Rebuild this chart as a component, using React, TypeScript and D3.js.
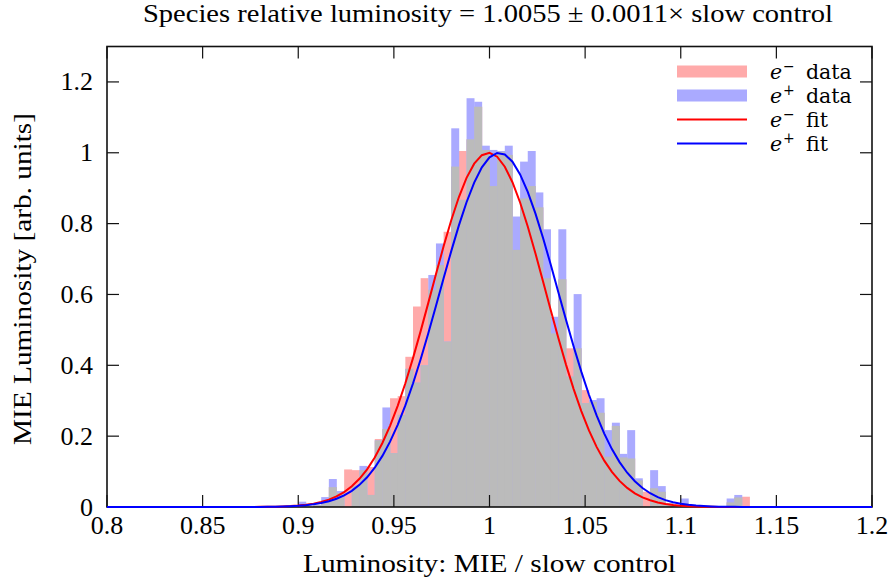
import React from "react";
import * as d3 from "d3";

const W = 892;
const H = 583;

const binStart = 0.9;
const binWidth = 0.004;
// e- (electron) histogram heights per bin, starting at 0.900
const eMinusData = [
  0.005, 0, 0.005, 0.012, 0.056, 0.04, 0.106, 0.104, 0.104, 0.113,
  0.192, 0.22, 0.307, 0.313, 0.424, 0.566, 0.646, 0.613, 0.683, 0.777,
  0.961, 1.005, 1.038, 1.13, 1.008, 0.906, 1.003, 0.994, 0.726, 0.871,
  0.906, 0.846, 0.646, 0.49, 0.643, 0.448, 0.448, 0.33, 0.297, 0.266,
  0.142, 0.229, 0.14, 0.137, 0.075, 0.043, 0.053, 0.043, 0.01, 0.005,
  0.01, 0, 0, 0, 0, 0, 0.013, 0.027, 0.029,
];
// e+ (positron) histogram heights per bin
const ePlusData = [
  0.015, 0, 0.005, 0.028, 0.079, 0.045, 0, 0.06, 0.116, 0.034,
  0.188, 0.281, 0.152, 0.26, 0.39, 0.351, 0.4, 0.655, 0.744, 0.467,
  1.069, 0.867, 1.154, 1.144, 1.02, 1.008, 1.005, 1.02, 0.82, 0.975,
  1.005, 0.888, 0.784, 0.537, 0.784, 0.368, 0.601, 0.293, 0.302, 0.307,
  0.217, 0.238, 0.15, 0.217, 0.081, 0, 0.104, 0.059, 0.01, 0.005,
  0.024, 0, 0, 0, 0, 0, 0.024, 0.034, 0,
];

// Gaussian fit parameters (mean, sigma), normalised to peak 1
const eMinusFit = { mean: 0.9995, sigma: 0.03 };
const ePlusFit = { mean: 1.005, sigma: 0.031 };

const xTicks = [0.8, 0.85, 0.9, 0.95, 1, 1.05, 1.1, 1.15, 1.2];
const xTickLabels = ["0.8", "0.85", "0.9", "0.95", "1", "1.05", "1.1", "1.15", "1.2"];
const yTicks = [0, 0.2, 0.4, 0.6, 0.8, 1, 1.2];
const yTickLabels = ["0", "0.2", "0.4", "0.6", "0.8", "1", "1.2"];

const titleText = "Species relative luminosity = 1.0055 \u00b1 0.0011\u00d7 slow control";
const xLabel = "Luminosity: MIE / slow control";
const yLabel = "MIE Luminosity [arb. units]";

const PINK = "#ffaaaa";
const LBLUE = "#aaaaff";
const GRAY = "#bbbbbb";
const FONT = "'Liberation Serif', 'DejaVu Serif', serif";
const LFONT = "'DejaVu Serif', 'Liberation Serif', serif";
const FS = 26;
const LFS = 20.5;

export default function App() {
  const x = d3.scaleLinear().domain([0.8, 1.2]).range([107, 872]);
  const y = d3.scaleLinear().domain([0, 1.3]).range([507, 46.5]);
  const tick = 12;

  const bins = eMinusData.map((r, i) => {
    const x0 = binStart + i * binWidth;
    return { x0, x1: x0 + binWidth, r, b: ePlusData[i], m: Math.min(r, ePlusData[i]) };
  });

  const samples = d3.range(0, 101).map((i) => 0.8 + i * 0.004);
  const gauss = (p: { mean: number; sigma: number }) => (v: number) =>
    Math.exp(-0.5 * ((v - p.mean) / p.sigma) ** 2);
  const line = (f: (v: number) => number) =>
    d3.line<number>().x((v) => x(v)).y((v) => y(f(v)))(samples) || "";

  const rect = (x0: number, x1: number, v: number, fill: string, key: string) =>
    v > 0 ? (
      <rect key={key} x={x(x0)} y={y(v)} width={x(x1) - x(x0) + 0.3} height={y(0) - y(v)} fill={fill} />
    ) : null;

  const legendRows = [
    { sign: "\u2212", label: "data", type: "bar", color: PINK },
    { sign: "+", label: "data", type: "bar", color: LBLUE },
    { sign: "\u2212", label: "fit", type: "line", color: "#ff0000" },
    { sign: "+", label: "fit", type: "line", color: "#0000ff" },
  ];

  return (
    <svg width={W} height={H} style={{ position: "absolute", left: 0, top: 0, background: "#fff" }} fontFamily={FONT}>
      <rect x={0} y={0} width={W} height={H} fill="#fff" />
      {/* histograms */}
      <g>
        {bins.map((d, i) => rect(d.x0, d.x1, d.r, PINK, "r" + i))}
        {bins.map((d, i) => rect(d.x0, d.x1, d.b, LBLUE, "b" + i))}
        {bins.map((d, i) => rect(d.x0, d.x1, d.m, GRAY, "g" + i))}
      </g>
      {/* frame */}
      <rect x={x(0.8)} y={y(1.3)} width={x(1.2) - x(0.8)} height={y(0) - y(1.3)} fill="none" stroke="#111" strokeWidth={1.6} />
      {/* ticks */}
      <g stroke="#111" strokeWidth={1.2}>
        {xTicks.map((t, i) => (
          <g key={"xt" + i}>
            <line x1={x(t)} x2={x(t)} y1={y(0)} y2={y(0) - tick} />
            <line x1={x(t)} x2={x(t)} y1={y(1.3)} y2={y(1.3) + tick} />
          </g>
        ))}
        {yTicks.map((t, i) => (
          <g key={"yt" + i}>
            <line x1={x(0.8)} x2={x(0.8) + tick} y1={y(t)} y2={y(t)} />
            <line x1={x(1.2)} x2={x(1.2) - tick} y1={y(t)} y2={y(t)} />
          </g>
        ))}
      </g>
      {/* legend */}
      <g fontFamily={LFONT}>
        {legendRows.map((r, i) => {
          const cy = 71.5 + i * 24;
          return (
            <g key={"lg" + i}>
              {r.type === "bar" ? (
                <rect x={677} y={cy - 6} width={70} height={12} fill={r.color} />
              ) : (
                <line x1={677} x2={747} y1={cy} y2={cy} stroke={r.color} strokeWidth={2} />
              )}
              <text y={cy + 7} fontSize={LFS} fill="#000">
                <tspan x={770} fontStyle="italic">e</tspan>
                <tspan x={783} dy={-8} fontSize={14}>{r.sign}</tspan>
                <tspan x={806} dy={8}>{r.label}</tspan>
              </text>
            </g>
          );
        })}
      </g>
      {/* fit curves */}
      <path d={line(gauss(eMinusFit))} fill="none" stroke="#ff0000" strokeWidth={2} />
      <path d={line(gauss(ePlusFit))} fill="none" stroke="#0000ff" strokeWidth={2} />
      {/* tick labels */}
      <g fontSize={FS} fill="#000">
        {xTicks.map((t, i) => (
          <text key={"xl" + i} x={x(t)} y={534} textAnchor="middle">{xTickLabels[i]}</text>
        ))}
        {yTicks.map((t, i) => (
          <text key={"yl" + i} x={93} y={y(t) + 8.5} textAnchor="end">{yTickLabels[i]}</text>
        ))}
      </g>
      {/* titles */}
      <text x={488} y={22} fontSize={FS} textAnchor="middle" textLength={690} lengthAdjust="spacingAndGlyphs">{titleText}</text>
      <text x={489.5} y={572} fontSize={FS} textAnchor="middle" textLength={373} lengthAdjust="spacingAndGlyphs">{xLabel}</text>
      <text transform={`translate(31, 279) rotate(-90)`} fontSize={FS} textAnchor="middle" textLength={332} lengthAdjust="spacingAndGlyphs">{yLabel}</text>
    </svg>
  );
}
